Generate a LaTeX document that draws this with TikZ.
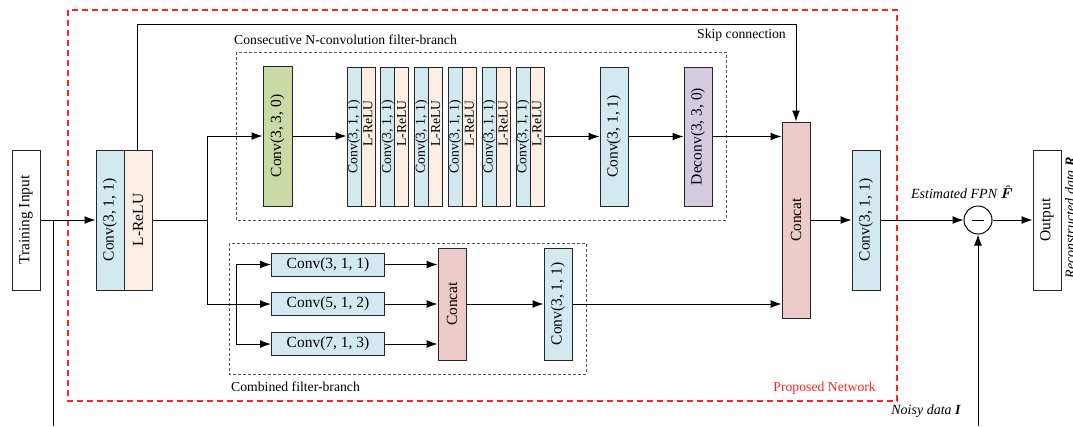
\documentclass[tikz,border=0pt]{standalone}
\usepackage{amsmath}
\usepackage{fontspec}
\setmainfont{Liberation Serif}
\usetikzlibrary{arrows.meta}
\definecolor{cblue}{HTML}{D2E9EF}
\definecolor{cpeach}{HTML}{FCEEE2}
\definecolor{cgreen}{HTML}{CAD9A6}
\definecolor{clav}{HTML}{D4CBE1}
\definecolor{cpink}{HTML}{ECCBCA}
\definecolor{cred}{HTML}{FF2020}
\definecolor{cgray}{HTML}{555555}
\begin{document}
\begin{tikzpicture}[x=1pt,y=-1pt,
  box/.style={draw=black!85, line width=1pt, inner sep=0pt, minimum width=28pt},
  vtxt/.style={rotate=90, inner sep=0pt, font=\fontsize{15.5}{15.5}\selectfont},
  ptxt/.style={rotate=90, inner sep=0pt, font=\fontsize{13.7}{13.7}\selectfont},
  htxt/.style={inner sep=0pt, font=\fontsize{15.5}{15.5}\selectfont},
  lab/.style={inner sep=0pt, font=\fontsize{13.7}{13.7}\selectfont},
  ilab/.style={inner sep=0pt, font=\fontsize{14}{14}\selectfont\itshape},
  arr/.style={-{Latex[length=11pt,width=8pt]}, line width=1pt},
  ln/.style={line width=1pt},
  gdash/.style={draw=cgray, line width=0.8pt, dash pattern=on 3pt off 2pt},
  rdash/.style={draw=cred, line width=1.3pt, dash pattern=on 6pt off 4pt}
]
\useasboundingbox (0,0) rectangle (1073,426);

% frames
\draw[rdash] (68,10) rectangle (897,401);
\draw[gdash] (236,52) rectangle (726,220);
\draw[gdash] (229,243) rectangle (586,374);

% labels of frames
\node[lab, anchor=west] (lcons) at (234,40) {Consecutive N-convolution filter-branch};
\node[lab, anchor=east] (lskip) at (786,35) {Skip connection};
\node[lab, anchor=west] (lcomb) at (231,387) {Combined filter-branch};
\node[lab, anchor=east, text=cred] (lprop) at (876,388) {Proposed Network};

% input
\node[box, minimum height=140] (ti) at (26,220) {};
\node[vtxt] (tti) at (ti.center) {Training Input};

% first block
\node[box, fill=cblue, minimum height=140] (c1) at (110,220) {};
\node[box, fill=cpeach, minimum height=140] (r1) at (138,220) {};
\node[vtxt] (tc1) at (c1.center) {Conv(3, 1, 1)};
\node[vtxt] (tr1) at (r1.center) {L-ReLU};

% consecutive branch
\node[box, fill=cgreen, minimum width=29, minimum height=140] (g) at (277.5,136) {};
\node[vtxt] (tg) at (g.center) {Conv(3, 3, 0)};
\foreach \i in {0,...,5} {
  \pgfmathsetmacro\L{347+33.8*\i}
  \node[box, fill=cblue, minimum width=14, minimum height=139] (pb\i) at (\L+7,136.5) {};
  \node[box, fill=cpeach, minimum width=14, minimum height=139] (pp\i) at (\L+21,136.5) {};
  \node[ptxt, anchor=east] (tb\i) at (\L+7,100) {Conv(3, 1, 1)};
  \node[ptxt, anchor=east] (tp\i) at (\L+21,100) {L-ReLU};
}
\node[box, fill=cblue, minimum height=139] (c2) at (614,136.5) {};
\node[vtxt] (tc2) at (c2.center) {Conv(3, 1, 1)};
\node[box, fill=clav, minimum height=139] (dc) at (698,136.5) {};
\node[vtxt] (tdc) at (dc.center) {Deconv(3, 3, 0)};

% big concat and final conv
\node[box, fill=cpink, minimum height=196] (cat) at (796,220) {};
\node[vtxt] (tcat) at (cat.center) {Concat};
\node[box, fill=cblue, minimum height=140] (c3) at (866,220) {};
\node[vtxt] (tc3) at (c3.center) {Conv(3, 1, 1)};

% combined branch
\node[box, fill=cblue, minimum width=113, minimum height=23, htxt] (hc1) at (328,264.5) {Conv(3, 1, 1)};
\node[box, fill=cblue, minimum width=113, minimum height=23, htxt] (hc2) at (328,304) {Conv(5, 1, 2)};
\node[box, fill=cblue, minimum width=113, minimum height=23, htxt] (hc3) at (328,344) {Conv(7, 1, 3)};
\node[box, fill=cpink, minimum height=112] (cat2) at (452,304) {};
\node[vtxt] (tcat2) at (cat2.center) {Concat};
\node[box, fill=cblue, minimum height=112] (c4) at (558,304) {};
\node[vtxt] (tc4) at (c4.center) {Conv(3, 1, 1)};

% subtraction and output
\node[draw, circle, line width=1pt, minimum size=28, inner sep=0pt] (sub) at (978,220) {};
\draw[line width=0.8pt] ([xshift=-6pt]sub.center) -- ([xshift=6pt]sub.center);
\node[box, minimum height=140] (out) at (1047,220) {};
\node[vtxt] (tout) at (out.center) {Output};
\node[ilab, rotate=90, anchor=east] (lrec) at (1070,157) {Reconstructed data \textbf{R}};
\node[ilab] (lfpn) at (962,192) {Estimated FPN $\boldsymbol{\hat{F}}$};
\node[ilab] (lnoisy) at (926,411) {Noisy data \textbf{I}};

% connectors
\coordinate (j1) at (53,220);
\coordinate (b1) at (53,426);
\draw[arr] (ti.east) -- (c1.west);
\draw[ln] (j1) -- (b1);

\coordinate (sk1) at (137,24);
\coordinate (sk2) at (796,24);
\coordinate (sk0) at (137,150);
\draw[arr] (sk0) -- (sk1) -- (sk2) -- (cat.north);

\coordinate (br) at (207,220);
\draw[ln] (r1.east) -- (br);
\draw[arr] (br) |- (g.west);
\draw[arr] (br) |- (hc2.west);

\draw[arr] (g.east) -- (pb0.west |- g.east);
\draw[arr] (pp5.east |- c2.west) -- (c2.west);
\draw[arr] (c2.east) -- (dc.west);
\draw[arr] (dc.east) -- (cat.west |- dc.east);

\coordinate (vb) at (236,304);
\draw[arr] (vb) |- (hc1.west);
\draw[arr] (vb) |- (hc3.west);
\draw[arr] (hc1.east) -- (cat2.west |- hc1.east);
\draw[arr] (hc2.east) -- (cat2.west |- hc2.east);
\draw[arr] (hc3.east) -- (cat2.west |- hc3.east);
\draw[arr] (cat2.east) -- (c4.west);
\draw[arr] (c4.east) -- (cat.west |- c4.east);

\draw[arr] (cat.east |- c3.west) -- (c3.west);
\draw[arr] (c3.east) -- (sub.west);
\draw[arr] (sub.east) -- (out.west);
\coordinate (b2) at (978,426);
\draw[arr] (b2) -- (sub.south);
\end{tikzpicture}
\end{document}
